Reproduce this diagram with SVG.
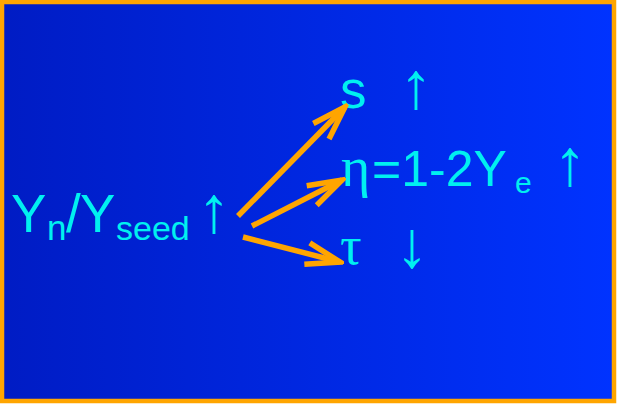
<svg xmlns="http://www.w3.org/2000/svg" width="618" height="405" viewBox="0 0 618 405">
<defs>
<linearGradient id="bg" x1="0" y1="0" x2="1" y2="0">
<stop offset="0" stop-color="#001CC4"/>
<stop offset="1" stop-color="#0033FF"/>
</linearGradient>
<marker id="ah" markerUnits="userSpaceOnUse" markerWidth="40" markerHeight="40" refX="36" refY="20" orient="auto" viewBox="0 0 40 40">
<path d="M2,9 L36,20 L2,31" fill="none" stroke="#FFA500" stroke-width="5.5"/>
</marker>
<style>
.t{font-family:"Liberation Sans",Arial,sans-serif;fill:#00F0F0}
.g{font-family:"Liberation Serif","Times New Roman",serif;fill:#00F0F0}
.a{font-family:"Liberation Sans",Arial,sans-serif;fill:#00F0F0;font-size:66px;text-anchor:middle}
.c{stroke:#FFA500;stroke-width:5.5;fill:none;marker-end:url(#ah)}
</style>
</defs>
<rect x="2" y="2" width="612" height="399" fill="url(#bg)" stroke="#FFA500" stroke-width="4.5"/>
<g id="left">
<text class="t" x="11" y="232" font-size="53">Y</text>
<text class="t" x="47" y="240" font-size="35">n</text>
<text class="t" x="66" y="232" font-size="53">/</text>
<text class="t" x="80" y="232" font-size="53">Y</text>
<text class="t" x="116" y="240" font-size="34">seed</text>
<text class="a" x="214" y="232">↑</text>
</g>
<g id="s">
<text class="t" x="340" y="108" font-size="53">s</text>
<text class="a" x="416" y="108">↑</text>
</g>
<g id="eta">
<text class="g" x="341" y="186" font-size="56">η</text>
<text class="t" x="372" y="186" font-size="50">=1-2Y</text>
<text class="t" x="515" y="193" font-size="30">e</text>
<text class="a" x="570" y="185">↑</text>
</g>
<g id="tau">
<text class="g" x="340" y="264" font-size="54">τ</text>
<text class="a" x="412" y="267">↓</text>
</g>
<g id="connectors">
<line class="c" x1="238" y1="216" x2="345" y2="107"/>
<line class="c" x1="252" y1="226" x2="342" y2="180"/>
<line class="c" x1="243" y1="237" x2="340" y2="262"/>
</g>
</svg>
